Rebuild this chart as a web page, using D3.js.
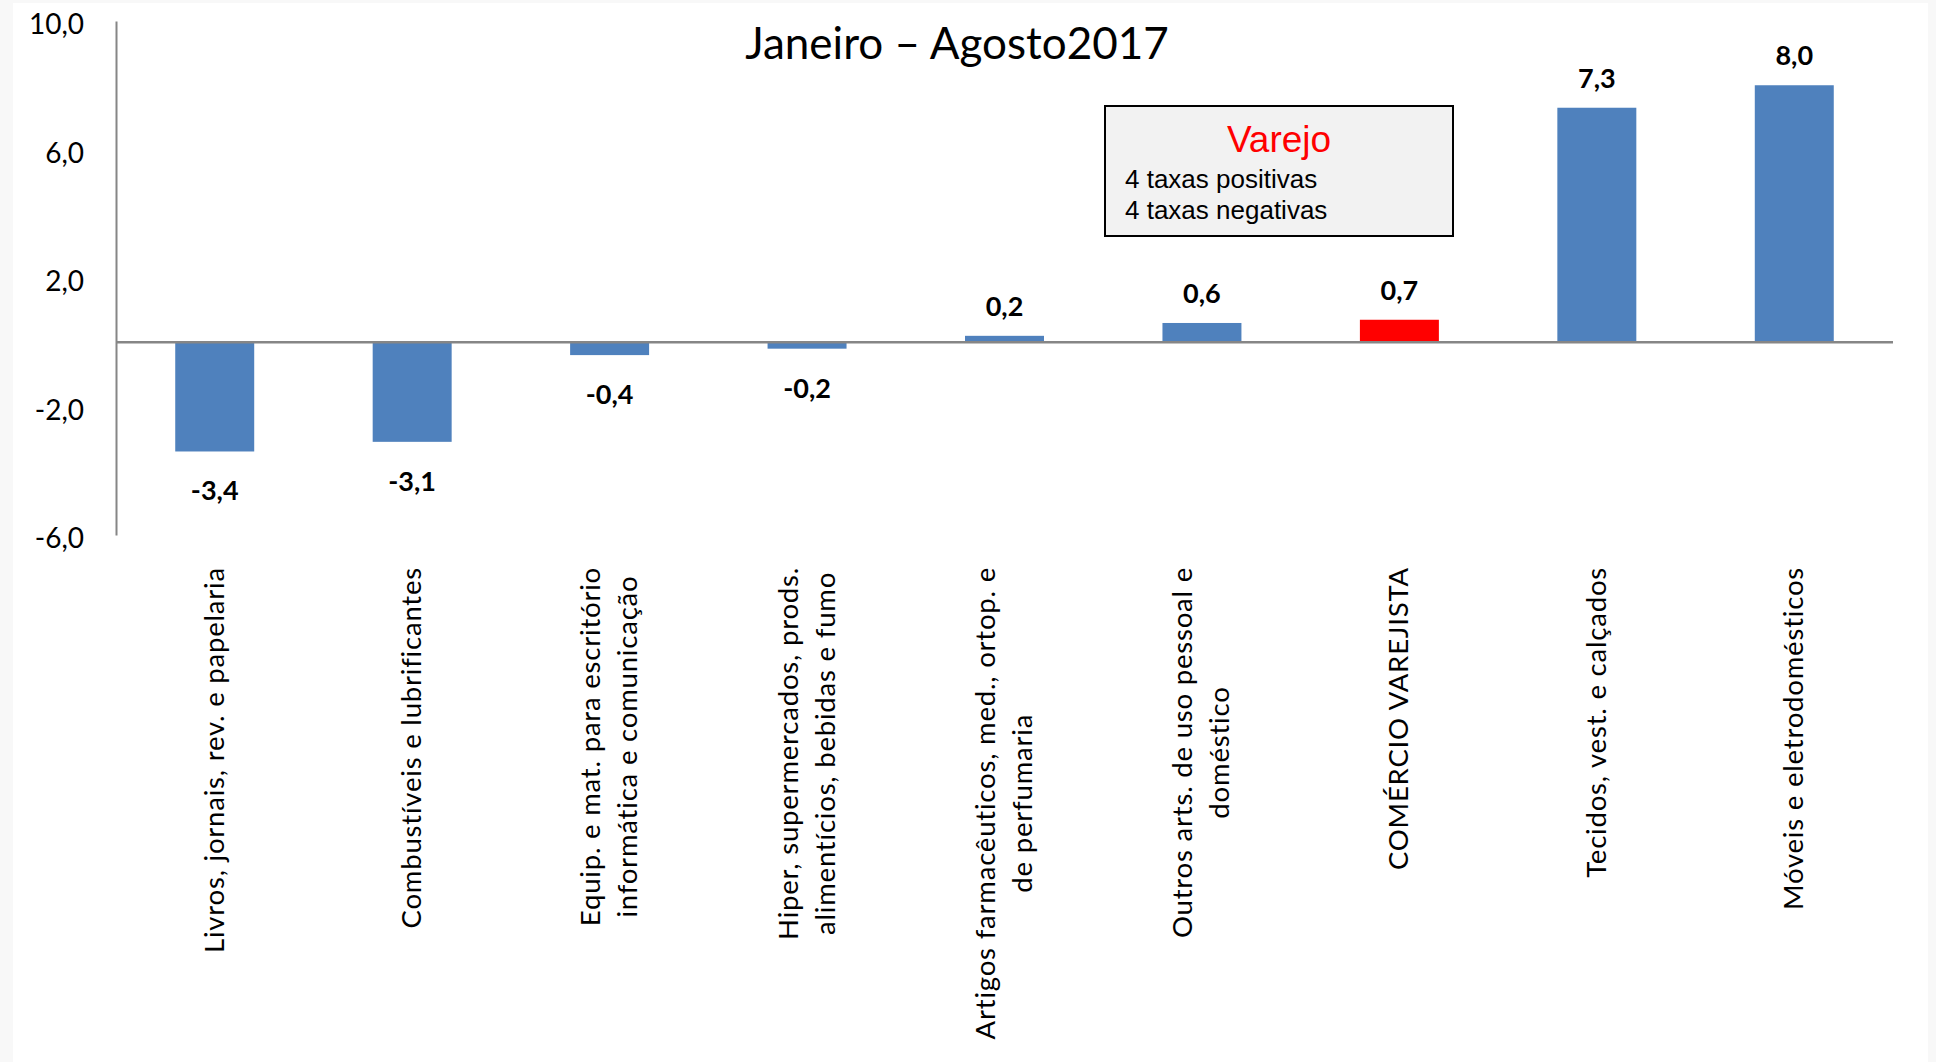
<!DOCTYPE html>
<html>
<head>
<meta charset="utf-8">
<script src="https://cdn.jsdelivr.net/npm/d3@7"></script>
<style>
  html, body { margin: 0; padding: 0; background: #f8f8f8; }
  svg { display: block; }
</style>
</head>
<body>
<svg id="chart" width="1936" height="1062"></svg>
<script>
// ---- data ----
const categories = [
  ["Livros, jornais, rev. e papelaria"],
  ["Combustíveis e lubrificantes"],
  ["Equip. e mat. para escritório", "informática e comunicação"],
  ["Hiper, supermercados, prods.", "alimentícios, bebidas e fumo"],
  ["Artigos farmacêuticos, med., ortop. e", "de perfumaria"],
  ["Outros arts. de uso pessoal e", "doméstico"],
  ["COMÉRCIO VAREJISTA"],
  ["Tecidos, vest. e calçados"],
  ["Móveis e eletrodomésticos"]
];
const values = [-3.4, -3.1, -0.4, -0.2, 0.2, 0.6, 0.7, 7.3, 8.0];
const highlighted = [false, false, false, false, false, false, true, false, false];
const yTicks = [-6, -2, 2, 6, 10];
const titleText = "Janeiro – Agosto2017";
const noteTitle = "Varejo";
const noteLines = ["4 taxas positivas", "4 taxas negativas"];

// ---- layout ----
const svg = d3.select("#chart");
svg.append("rect").attr("x", 13).attr("y", 3).attr("width", 1915).attr("height", 1059).attr("fill", "#ffffff");

const keys = categories.map(c => c.join(" "));
const x = d3.scaleBand().domain(keys).range([116, 1893]).paddingInner(0.6).paddingOuter(0.3);
const y = d3.scaleLinear().domain([-6, 10]).range([535, 21]);
const fmt = v => v.toFixed(1).replace(".", ",");
const axisColor = "#868686";

// y axis
const yAxis = svg.append("g")
  .attr("transform", "translate(116,0)")
  .call(d3.axisLeft(y).tickValues(yTicks).tickSize(0).tickPadding(32).tickFormat(fmt));
yAxis.select(".domain").attr("stroke", axisColor).attr("stroke-width", 2);
yAxis.selectAll("text")
  .attr("font-family", "Lato, 'Open Sans', sans-serif")
  .attr("font-size", 28)
  .attr("dy", "0.45em")
  .attr("fill", "#000");

// bars
const blue = "#4f81bd", red = "#ff0000";
svg.append("g").selectAll("rect")
  .data(values)
  .join("rect")
  .attr("x", (d, i) => x(keys[i]))
  .attr("width", x.bandwidth())
  .attr("y", d => y(Math.max(0, d)))
  .attr("height", d => Math.abs(y(d) - y(0)))
  .attr("fill", (d, i) => highlighted[i] ? red : blue);

// zero line
svg.append("line")
  .attr("x1", x.range()[0]).attr("x2", x.range()[1])
  .attr("y1", y(0)).attr("y2", y(0))
  .attr("stroke", axisColor).attr("stroke-width", 2.5);

// value labels
svg.append("g").selectAll("text")
  .data(values)
  .join("text")
  .attr("x", (d, i) => x(keys[i]) + x.bandwidth() / 2)
  .attr("y", d => d >= 0 ? y(d) - 20 : y(d) + 49)
  .attr("text-anchor", "middle")
  .attr("font-family", "Lato, 'Open Sans', sans-serif")
  .attr("font-weight", "bold")
  .attr("font-size", 27)
  .attr("fill", "#000")
  .text(d => fmt(d));

// category labels (rotated)
const lineGap = 37;
const catG = svg.append("g");
categories.forEach((lines, i) => {
  const cx = x(keys[i]) + x.bandwidth() / 2;
  const g = catG.append("g").attr("transform", `translate(${cx},567) rotate(-90)`);
  const n = lines.length;
  const texts = lines.map((ln, j) => g.append("text")
    .attr("font-family", "Lato, 'Open Sans', sans-serif")
    .attr("font-size", 27.5)
    .attr("letter-spacing", "0.8px")
    .attr("fill", "#000")
    .attr("y", 9 + (j - (n - 1) / 2) * lineGap)
    .text(ln));
  const w = d3.max(texts, t => t.node().getComputedTextLength());
  texts.forEach(t => t.attr("text-anchor", "middle").attr("x", -w / 2));
});

// title
svg.append("text")
  .attr("x", 957).attr("y", 59)
  .attr("text-anchor", "middle")
  .attr("font-family", "Lato, 'Open Sans', sans-serif")
  .attr("font-size", 44)
  .attr("fill", "#000")
  .text(titleText);

// note box
const box = svg.append("g");
box.append("rect")
  .attr("x", 1105).attr("y", 106).attr("width", 348).attr("height", 130)
  .attr("fill", "#f2f2f2").attr("stroke", "#000").attr("stroke-width", 2);
box.append("text")
  .attr("x", 1279).attr("y", 152)
  .attr("text-anchor", "middle")
  .attr("font-family", "'Liberation Sans', Arial, sans-serif")
  .attr("font-size", 37)
  .attr("fill", red)
  .text(noteTitle);
noteLines.forEach((t, j) => box.append("text")
  .attr("x", 1125).attr("y", 188 + j * 31)
  .attr("font-family", "'Liberation Sans', Arial, sans-serif")
  .attr("font-size", 26)
  .attr("fill", "#000")
  .text(t));
</script>
</body>
</html>
